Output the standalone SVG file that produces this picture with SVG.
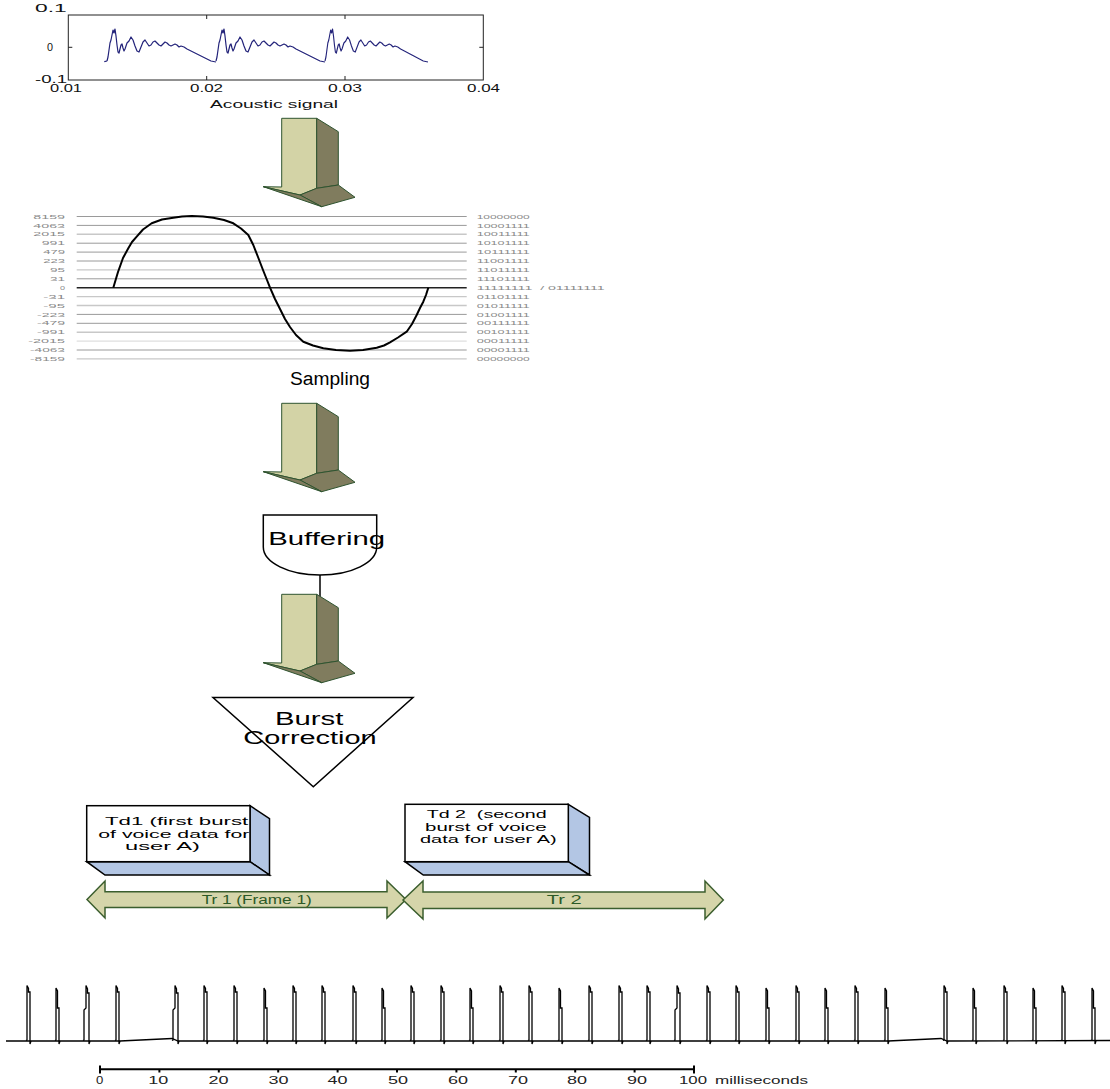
<svg xmlns="http://www.w3.org/2000/svg" xmlns:xlink="http://www.w3.org/1999/xlink" width="1110" height="1089" viewBox="0 0 1110 1089">
<style>
text{font-family:"Liberation Sans",Arial,sans-serif;}
.axis{fill:none;stroke:#222;stroke-width:1}
.tick{font-size:11px;fill:#111}
.sig{fill:none;stroke:#23237a;stroke-width:1.2;stroke-linejoin:round}
.hl{stroke:#9a9a9a;stroke-width:1}
.hl2{stroke:#c8c8c8;stroke-width:1.4}
.lab{font-size:6px;fill:#8a8a8a}
.arrL{fill:#d3d3a6;stroke:#2f5430;stroke-width:1}
.arrD{fill:#807c5e;stroke:#2f5430;stroke-width:1}
.shape{fill:#fff;stroke:#000;stroke-width:1.5}
.big{font-size:18px;fill:#000}
.boxF{fill:#fff;stroke:#000;stroke-width:1.5}
.boxS{fill:#b3c6e4;stroke:#000;stroke-width:1.5}
.boxT{font-size:11.5px;fill:#000}
.dbl{fill:#d5d5aa;stroke:#3b5e2e;stroke-width:1.5}
.trT{font-size:12px;fill:#2d5a27}
.pulse{fill:none;stroke:#000;stroke-width:1.3}
.scale{font-size:10px;fill:#222}
</style>
<defs>
<polyline id="sigseg" points="0,61 1,57 2,50 3,43 4,40 5,35 6,30 7,33 8,29 9,36 10,45 11,52 12,53 13,49 14,45 15,44 16,48 17,51 18,49 19,46 20,43 22,41 24,37 26,40 28,46 30,51 32,52 34,47 36,42 38,40 40,43 42,46 44,45 46,42 48,41 50,43 52,45 54,46 56,44 58,42 60,43 62,45 64,46 66,45 68,44 70,45 72,47 74,46 77,47 80,49 84,51 88,53 92,55 96,57 100,59 104,61 109,62"/>
<g id="blockArrow">
<polygon class="arrL" points="281.7,118.3 316.7,118.3 316.7,188.3 300,195 263.3,186.7 281.7,187"/>
<polygon class="arrD" points="316.7,118.3 338.3,131.7 338.3,185 316.7,188.3"/>
<polygon class="arrD" points="316.7,188.3 338.3,185 355,197.3 321.7,206.7 300,195"/>
<polygon class="arrD" points="263.3,186.7 300,195 321.7,206.7"/>
</g>
<path id="pA" d="M-1,1040.5 L0,1040 V985.5 L1.5,988.5 V992 L3,992 V1044 L4,1041"/>
<path id="pB" d="M-1,1040.5 L0,1040 V988 L1.5,991 V1008 L3,1008 V1044 L4,1041"/>
<path id="pC" d="M-3,1040.5 L-2,1040 V1010 L0,1008 V985.5 L1.5,989 V993 L3,993 V1044 L4,1041"/>
</defs>

<!-- Acoustic signal plot -->
<g id="acoustic-plot">
<rect class="axis" x="68.3" y="15" width="415" height="65"/>
<line class="axis" x1="68.3" y1="47.3" x2="72.3" y2="47.3"/>
<line class="axis" x1="483.3" y1="47.3" x2="479.3" y2="47.3"/>
<line class="axis" x1="206.7" y1="80" x2="206.7" y2="76"/>
<line class="axis" x1="345" y1="80" x2="345" y2="76"/>
<line class="axis" x1="206.7" y1="15" x2="206.7" y2="19"/>
<line class="axis" x1="345" y1="15" x2="345" y2="19"/>
<text class="tick" x="35" y="12" textLength="31.7" lengthAdjust="spacingAndGlyphs">0.1</text>
<text class="tick" x="47" y="50.5" textLength="6" lengthAdjust="spacingAndGlyphs">0</text>
<text class="tick" x="35" y="83" textLength="32" lengthAdjust="spacingAndGlyphs">-0.1</text>
<text class="tick" x="50" y="92" textLength="32" lengthAdjust="spacingAndGlyphs">0.01</text>
<text class="tick" x="190" y="92" textLength="33" lengthAdjust="spacingAndGlyphs">0.02</text>
<text class="tick" x="328" y="92" textLength="34" lengthAdjust="spacingAndGlyphs">0.03</text>
<text class="tick" x="467" y="92" textLength="33" lengthAdjust="spacingAndGlyphs">0.04</text>
<text class="tick" x="210" y="107.5" font-size="10.5" textLength="128" lengthAdjust="spacingAndGlyphs">Acoustic signal</text>
<polyline class="sig" points="104.3,61.7 107,61"/>
<use href="#sigseg" class="sig" transform="translate(107,0)"/>
<use href="#sigseg" class="sig" transform="translate(216,0)"/>
<use href="#sigseg" class="sig" transform="translate(325,0) scale(0.945,1)" vector-effect="non-scaling-stroke"/>
</g>

<!-- Sampling chart -->
<g id="sampling-chart">
<line class="hl" x1="76.7" y1="216.5" x2="466.7" y2="216.5"/>
<line class="hl" x1="76.7" y1="225.4" x2="466.7" y2="225.4"/>
<line class="hl2" x1="76.7" y1="234.3" x2="466.7" y2="234.3"/>
<line class="hl" x1="76.7" y1="243.2" x2="466.7" y2="243.2"/>
<line class="hl" x1="76.7" y1="252.1" x2="466.7" y2="252.1"/>
<line class="hl" x1="76.7" y1="261" x2="466.7" y2="261"/>
<line class="hl2" x1="76.7" y1="269.9" x2="466.7" y2="269.9"/>
<line class="hl" x1="76.7" y1="278.8" x2="466.7" y2="278.8"/>
<line x1="76.7" y1="287.7" x2="466.7" y2="287.7" stroke="#222" stroke-width="1.6"/>
<line class="hl2" x1="76.7" y1="296.6" x2="466.7" y2="296.6"/>
<line class="hl2" x1="76.7" y1="305.5" x2="466.7" y2="305.5"/>
<line class="hl" x1="76.7" y1="314.4" x2="466.7" y2="314.4"/>
<line class="hl" x1="76.7" y1="323.3" x2="466.7" y2="323.3"/>
<line class="hl2" x1="76.7" y1="332.2" x2="466.7" y2="332.2"/>
<line class="hl2" x1="76.7" y1="341.1" x2="466.7" y2="341.1" stroke-opacity="0.6"/>
<line class="hl" x1="76.7" y1="350" x2="466.7" y2="350"/>
<line class="hl2" x1="76.7" y1="358.9" x2="466.7" y2="358.9"/>
<g text-anchor="end">
<text class="lab" x="65" y="218.6" textLength="31.7" lengthAdjust="spacingAndGlyphs">8159</text>
<text class="lab" x="65" y="227.5" textLength="31.7" lengthAdjust="spacingAndGlyphs">4063</text>
<text class="lab" x="65" y="236.4" textLength="31.7" lengthAdjust="spacingAndGlyphs">2015</text>
<text class="lab" x="65" y="245.3" textLength="23.3" lengthAdjust="spacingAndGlyphs">991</text>
<text class="lab" x="65" y="254.2" textLength="21.7" lengthAdjust="spacingAndGlyphs">479</text>
<text class="lab" x="65" y="263.1" textLength="21.7" lengthAdjust="spacingAndGlyphs">223</text>
<text class="lab" x="65" y="272" textLength="15" lengthAdjust="spacingAndGlyphs">95</text>
<text class="lab" x="65" y="280.9" textLength="15" lengthAdjust="spacingAndGlyphs">31</text>
<text class="lab" x="65" y="289.8" textLength="5" lengthAdjust="spacingAndGlyphs">0</text>
<text class="lab" x="65" y="298.7" textLength="21.7" lengthAdjust="spacingAndGlyphs">-31</text>
<text class="lab" x="65" y="307.6" textLength="21.7" lengthAdjust="spacingAndGlyphs">-95</text>
<text class="lab" x="65" y="316.5" textLength="28" lengthAdjust="spacingAndGlyphs">-223</text>
<text class="lab" x="65" y="325.4" textLength="28" lengthAdjust="spacingAndGlyphs">-479</text>
<text class="lab" x="65" y="334.3" textLength="28" lengthAdjust="spacingAndGlyphs">-991</text>
<text class="lab" x="65" y="343.2" textLength="36.7" lengthAdjust="spacingAndGlyphs">-2015</text>
<text class="lab" x="65" y="352.1" textLength="35" lengthAdjust="spacingAndGlyphs">-4063</text>
<text class="lab" x="65" y="361" textLength="35" lengthAdjust="spacingAndGlyphs">-8159</text>
</g>
<g>
<text class="lab" x="476.7" y="218.6" textLength="53" lengthAdjust="spacingAndGlyphs">10000000</text>
<text class="lab" x="476.7" y="227.5" textLength="53" lengthAdjust="spacingAndGlyphs">10001111</text>
<text class="lab" x="476.7" y="236.4" textLength="53" lengthAdjust="spacingAndGlyphs">10011111</text>
<text class="lab" x="476.7" y="245.3" textLength="53" lengthAdjust="spacingAndGlyphs">10101111</text>
<text class="lab" x="476.7" y="254.2" textLength="53" lengthAdjust="spacingAndGlyphs">10111111</text>
<text class="lab" x="476.7" y="263.1" textLength="53" lengthAdjust="spacingAndGlyphs">11001111</text>
<text class="lab" x="476.7" y="272" textLength="53" lengthAdjust="spacingAndGlyphs">11011111</text>
<text class="lab" x="476.7" y="280.9" textLength="53" lengthAdjust="spacingAndGlyphs">11101111</text>
<text class="lab" x="476.7" y="289.8" textLength="128" lengthAdjust="spacingAndGlyphs" xml:space="preserve">11111111  / 01111111</text>
<text class="lab" x="476.7" y="298.7" textLength="53" lengthAdjust="spacingAndGlyphs">01101111</text>
<text class="lab" x="476.7" y="307.6" textLength="53" lengthAdjust="spacingAndGlyphs">01011111</text>
<text class="lab" x="476.7" y="316.5" textLength="53" lengthAdjust="spacingAndGlyphs">01001111</text>
<text class="lab" x="476.7" y="325.4" textLength="53" lengthAdjust="spacingAndGlyphs">00111111</text>
<text class="lab" x="476.7" y="334.3" textLength="53" lengthAdjust="spacingAndGlyphs">00101111</text>
<text class="lab" x="476.7" y="343.2" textLength="53" lengthAdjust="spacingAndGlyphs">00011111</text>
<text class="lab" x="476.7" y="352.1" textLength="53" lengthAdjust="spacingAndGlyphs">00001111</text>
<text class="lab" x="476.7" y="361" textLength="53" lengthAdjust="spacingAndGlyphs">00000000</text>
</g>
<polyline fill="none" stroke="#000" stroke-width="2" stroke-linejoin="round" points="113.3,287.7 118,272 123,258 128.3,248.3 132,242 136.7,236.7 143,229.5 151.7,223.3 162,219.5 173.3,217.7 182,216.6 191.7,216 203,216.6 213.3,217.7 224,220 233.3,223.3 241,228.5 248.3,235 253.3,245 258,257 263,270 267,280 270,287.7 275,299 280,309 285,319 290,327 296,335 303.3,341.7 313,345.5 323.3,348.3 336,350 350,350.7 363,350 376.7,347.7 384,345.5 390,342.3 398,337.5 406.7,331.7 412,324 416.7,315 420,308 423.3,301.7 426,295 428.3,287.7"/>
<text class="big" x="290" y="385" textLength="80" lengthAdjust="spacingAndGlyphs">Sampling</text>
</g>

<!-- Buffering node -->
<g id="buffering">
<path class="shape" d="M263.3,515 H376.7 V547 A56.7,28 0 0 1 263.3,547 Z"/>
<text class="big" x="268.3" y="545" textLength="116.7" lengthAdjust="spacingAndGlyphs">Buffering</text>
</g>

<!-- Burst Correction node -->
<g id="burst-correction">
<polygon class="shape" points="213,697.5 413,697.5 313.3,786.7"/>
<text class="big" x="275" y="725" font-size="16.5" textLength="68.3" lengthAdjust="spacingAndGlyphs">Burst</text>
<text class="big" x="243.3" y="744" font-size="16.5" textLength="133.4" lengthAdjust="spacingAndGlyphs">Correction</text>
</g>

<!-- Td1 node -->
<g id="td1">
<polygon class="boxS" points="250,805.7 269.5,818.7 269.5,875 250,861.7"/>
<polygon class="boxS" points="86.7,861.7 250,861.7 269.5,875 105,875"/>
<rect class="boxF" x="86.7" y="805.7" width="163.3" height="56"/>
<text class="boxT" x="105" y="825" textLength="143.3" lengthAdjust="spacingAndGlyphs">Td1 (first burst</text>
<text class="boxT" x="98.3" y="837.7" textLength="151" lengthAdjust="spacingAndGlyphs">of voice data for</text>
<text class="boxT" x="125" y="850" textLength="75" lengthAdjust="spacingAndGlyphs">user A)</text>
</g>

<!-- Td2 node -->
<g id="td2">
<polygon class="boxS" points="568.3,804.3 589.5,817.3 589.5,875 568.3,861.7"/>
<polygon class="boxS" points="405,861.7 568.3,861.7 589.5,875 423.3,875"/>
<rect class="boxF" x="405" y="804.3" width="163.3" height="57.4"/>
<text class="boxT" x="426.7" y="817.7" textLength="120" lengthAdjust="spacingAndGlyphs" xml:space="preserve">Td 2  (second</text>
<text class="boxT" x="425" y="830.7" textLength="121.7" lengthAdjust="spacingAndGlyphs">burst of voice</text>
<text class="boxT" x="420" y="843.3" textLength="136.7" lengthAdjust="spacingAndGlyphs">data for user A)</text>
</g>

<!-- Tr1 / Tr2 double arrows -->
<g id="tr1">
<polygon class="dbl" points="87,899.5 105,881 105,891.7 387,891.7 387,881 406,899.5 387,918 387,907.5 105,907.5 105,918"/>
<text class="trT" x="201.7" y="903.5" textLength="110" lengthAdjust="spacingAndGlyphs">Tr 1 (Frame 1)</text>
</g>
<g id="tr2">
<polygon class="dbl" points="403,900 423,881 423,892 705,892 705,881 723.3,900 705,919 705,908.5 423,908.5 423,919"/>
<text class="trT" x="546.7" y="903.5" textLength="35" lengthAdjust="spacingAndGlyphs">Tr 2</text>
</g>

<!-- connectors -->
<g id="connectors">
<use href="#blockArrow"/>
<use href="#blockArrow" transform="translate(0,285)"/>
<line x1="320" y1="575" x2="320" y2="598" stroke="#000" stroke-width="1.5"/>
<use href="#blockArrow" transform="translate(0,476)"/>
</g>

<!-- pulse train -->
<g id="pulse-train">
<polyline class="pulse" points="6,1041 120,1041 172,1038.5 178,1041 888,1041 941,1038.5 947,1041 1110,1040.5"/>
<use href="#pA" class="pulse" x="27"/>
<use href="#pB" class="pulse" x="56"/>
<use href="#pC" class="pulse" x="86"/>
<use href="#pA" class="pulse" x="116"/>
<use href="#pC" class="pulse" x="175"/>
<use href="#pA" class="pulse" x="204"/>
<use href="#pA" class="pulse" x="234"/>
<use href="#pB" class="pulse" x="264"/>
<use href="#pA" class="pulse" x="293"/>
<use href="#pA" class="pulse" x="322"/>
<use href="#pA" class="pulse" x="353"/>
<use href="#pB" class="pulse" x="382"/>
<use href="#pA" class="pulse" x="411"/>
<use href="#pA" class="pulse" x="441"/>
<use href="#pB" class="pulse" x="470"/>
<use href="#pA" class="pulse" x="500"/>
<use href="#pA" class="pulse" x="529"/>
<use href="#pB" class="pulse" x="559"/>
<use href="#pA" class="pulse" x="589"/>
<use href="#pA" class="pulse" x="619"/>
<use href="#pA" class="pulse" x="647"/>
<use href="#pC" class="pulse" x="677"/>
<use href="#pA" class="pulse" x="707"/>
<use href="#pA" class="pulse" x="736"/>
<use href="#pB" class="pulse" x="766"/>
<use href="#pA" class="pulse" x="796"/>
<use href="#pB" class="pulse" x="825"/>
<use href="#pA" class="pulse" x="855"/>
<use href="#pB" class="pulse" x="885"/>
<use href="#pA" class="pulse" x="944"/>
<use href="#pB" class="pulse" x="973"/>
<use href="#pA" class="pulse" x="1004"/>
<use href="#pB" class="pulse" x="1033"/>
<use href="#pA" class="pulse" x="1062"/>
<use href="#pB" class="pulse" x="1092"/>
</g>

<!-- time scale -->
<g id="time-scale">
<line x1="100" y1="1069.3" x2="694" y2="1069.3" stroke="#000" stroke-width="2"/>
<line x1="100" y1="1065.5" x2="100" y2="1073.5" stroke="#000" stroke-width="2"/>
<line x1="694" y1="1065.5" x2="694" y2="1073.5" stroke="#000" stroke-width="2"/>
<g stroke="#000" stroke-width="2">
<line x1="159.4" y1="1069" x2="159.4" y2="1072.5"/>
<line x1="218.8" y1="1069" x2="218.8" y2="1072.5"/>
<line x1="278.2" y1="1069" x2="278.2" y2="1072.5"/>
<line x1="337.6" y1="1069" x2="337.6" y2="1072.5"/>
<line x1="397" y1="1069" x2="397" y2="1072.5"/>
<line x1="456.4" y1="1069" x2="456.4" y2="1072.5"/>
<line x1="515.8" y1="1069" x2="515.8" y2="1072.5"/>
<line x1="575.2" y1="1069" x2="575.2" y2="1072.5"/>
<line x1="634.6" y1="1069" x2="634.6" y2="1072.5"/>
</g>
<text class="scale" x="96" y="1083.5" textLength="7.3" lengthAdjust="spacingAndGlyphs">0</text>
<text class="scale" x="148.3" y="1083.5" textLength="20" lengthAdjust="spacingAndGlyphs">10</text>
<text class="scale" x="208.6" y="1083.5" textLength="20" lengthAdjust="spacingAndGlyphs">20</text>
<text class="scale" x="268.6" y="1083.5" textLength="20" lengthAdjust="spacingAndGlyphs">30</text>
<text class="scale" x="327.5" y="1083.5" textLength="20" lengthAdjust="spacingAndGlyphs">40</text>
<text class="scale" x="388" y="1083.5" textLength="20" lengthAdjust="spacingAndGlyphs">50</text>
<text class="scale" x="448" y="1083.5" textLength="20" lengthAdjust="spacingAndGlyphs">60</text>
<text class="scale" x="508" y="1083.5" textLength="20" lengthAdjust="spacingAndGlyphs">70</text>
<text class="scale" x="567" y="1083.5" textLength="20" lengthAdjust="spacingAndGlyphs">80</text>
<text class="scale" x="627" y="1083.5" textLength="20" lengthAdjust="spacingAndGlyphs">90</text>
<text class="scale" x="679" y="1083.5" textLength="28" lengthAdjust="spacingAndGlyphs">100</text>
<text class="scale" x="715" y="1083.5" font-size="11" textLength="93" lengthAdjust="spacingAndGlyphs">milliseconds</text>
</g>
</svg>
